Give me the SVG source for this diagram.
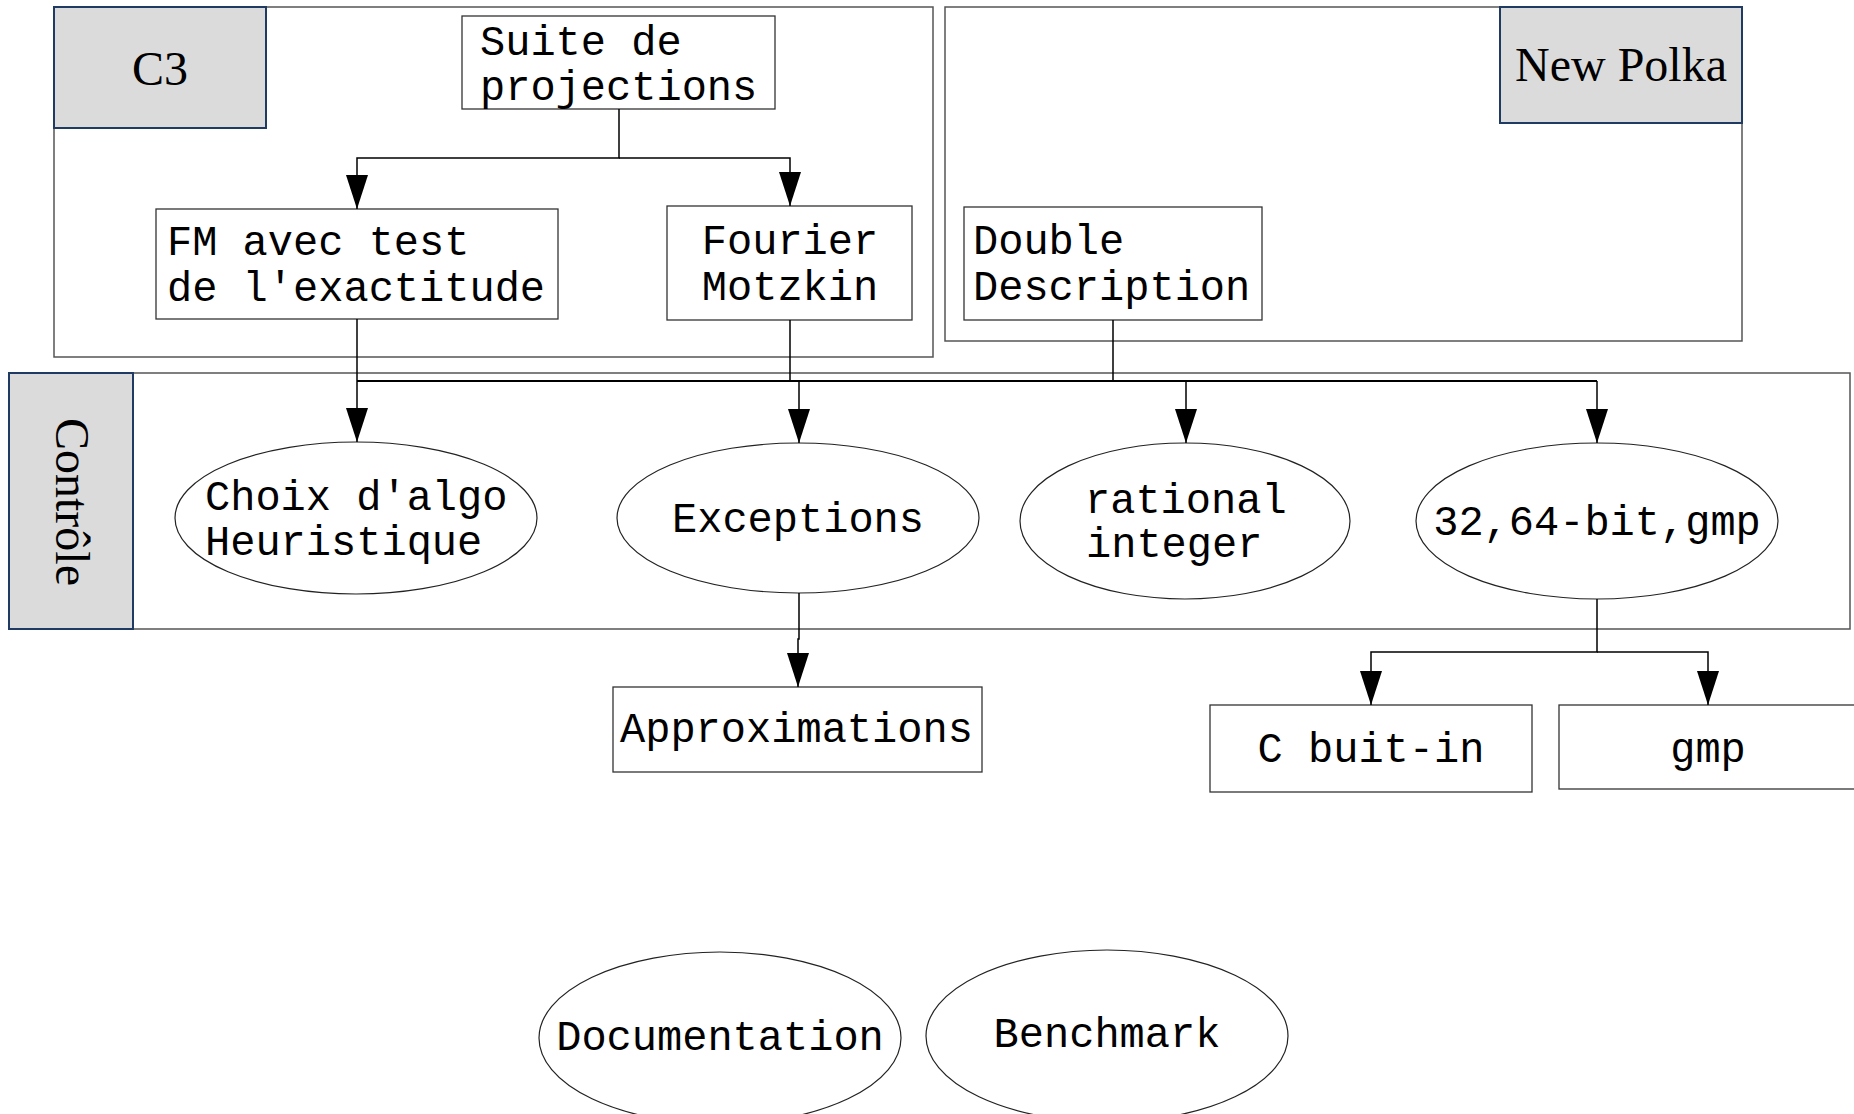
<svg xmlns="http://www.w3.org/2000/svg" width="1854" height="1114" viewBox="0 0 1854 1114">
<defs>
<style>
.cont{fill:none;stroke:#555;stroke-width:1.5}
.lab{fill:#dbdbdb;stroke:#1f3b63;stroke-width:2}
.box{fill:#fff;stroke:#333;stroke-width:1.3}
.ell{fill:#fff;stroke:#222;stroke-width:1.2}
.mono{font-family:"Liberation Mono","DejaVu Sans Mono",monospace;font-size:42px;fill:#000}
.serif{font-family:"Liberation Serif","DejaVu Serif",serif;font-size:48px;fill:#000}
.c{text-anchor:middle}
.con{fill:none;stroke:#000;stroke-width:1.5}
</style>
<marker id="ah" markerUnits="userSpaceOnUse" markerWidth="34" markerHeight="22" refX="34" refY="11" orient="auto">
<path d="M0,0 L34,11 L0,22 z" fill="#000"/>
</marker>
</defs>
<rect width="1854" height="1114" fill="#fff"/>

<g id="c3-group">
<rect class="cont" x="54" y="7" width="879" height="350"/>
<rect class="lab" x="54" y="7" width="212" height="121"/>
<text class="serif c" x="160" y="85">C3</text>
</g>
<g id="newpolka-group">
<rect class="cont" x="945" y="7" width="797" height="334"/>
<rect class="lab" x="1500" y="7" width="242" height="116"/>
<text class="serif c" x="1621" y="81">New Polka</text>
</g>
<g id="controle-group">
<rect class="cont" x="9" y="373" width="1841" height="256"/>
<rect class="lab" x="9" y="373" width="124" height="256"/>
<text class="serif c" transform="translate(56,502) rotate(90)">Contrôle</text>
</g>

<g id="suite">
<rect class="box" x="462" y="16" width="313" height="93"/>
<text class="mono" x="480" y="55">Suite de</text>
<text class="mono" x="480" y="100">projections</text>
</g>
<g id="fm">
<rect class="box" x="156" y="209" width="402" height="110"/>
<text class="mono" x="167" y="255">FM avec test</text>
<text class="mono" x="167" y="301">de l'exactitude</text>
</g>
<g id="fourier">
<rect class="box" x="667" y="206" width="245" height="114"/>
<text class="mono c" x="790" y="254">Fourier</text>
<text class="mono c" x="790" y="300">Motzkin</text>
</g>
<g id="dd">
<rect class="box" x="964" y="207" width="298" height="113"/>
<text class="mono" x="973" y="254">Double</text>
<text class="mono" x="973" y="300">Description</text>
</g>
<g id="choix">
<ellipse class="ell" cx="356" cy="518" rx="181" ry="76"/>
<text class="mono" x="205" y="510">Choix d'algo</text>
<text class="mono" x="205" y="555">Heuristique</text>
</g>
<g id="exceptions">
<ellipse class="ell" cx="798" cy="518" rx="181" ry="75"/>
<text class="mono c" x="798" y="532">Exceptions</text>
</g>
<g id="rational">
<ellipse class="ell" cx="1185" cy="521" rx="165" ry="78"/>
<text class="mono" x="1085" y="513">rational</text>
<text class="mono" x="1086" y="557">integer</text>
</g>
<g id="bits">
<ellipse class="ell" cx="1597" cy="521" rx="181" ry="78"/>
<text class="mono c" x="1597" y="535">32,64-bit,gmp</text>
</g>
<g id="approx">
<rect class="box" x="613" y="687" width="369" height="85"/>
<text class="mono" x="620" y="742">Approximations</text>
</g>
<g id="cbuiltin">
<rect class="box" x="1210" y="705" width="322" height="87"/>
<text class="mono c" x="1371" y="762">C buit-in</text>
</g>
<g id="gmp">
<rect class="box" x="1559" y="705" width="300" height="84"/>
<text class="mono c" x="1708" y="762">gmp</text>
</g>
<g id="documentation">
<ellipse class="ell" cx="720" cy="1038" rx="181" ry="86"/>
<text class="mono c" x="720" y="1050">Documentation</text>
</g>
<g id="benchmark">
<ellipse class="ell" cx="1107" cy="1036" rx="181" ry="86"/>
<text class="mono c" x="1107" y="1047">Benchmark</text>
</g>

<g id="connectors">
<path class="con" d="M619,109 V158 H357 V209" marker-end="url(#ah)"/>
<path class="con" d="M619,158 H790 V206" marker-end="url(#ah)"/>
<path class="con" d="M357,381 H1597" style="stroke-width:2.2"/>
<path class="con" d="M357,319 V442" marker-end="url(#ah)"/>
<path class="con" d="M790,320 V381 H799 V443" marker-end="url(#ah)"/>
<path class="con" d="M1113,320 V381 H1186 V443" marker-end="url(#ah)"/>
<path class="con" d="M1597,381 V443" marker-end="url(#ah)"/>
<path class="con" d="M799,593 V639 H798 V687" marker-end="url(#ah)"/>
<path class="con" d="M1597,599 V652 H1371 V705" marker-end="url(#ah)"/>
<path class="con" d="M1597,652 H1708 V705" marker-end="url(#ah)"/>
</g>
</svg>
